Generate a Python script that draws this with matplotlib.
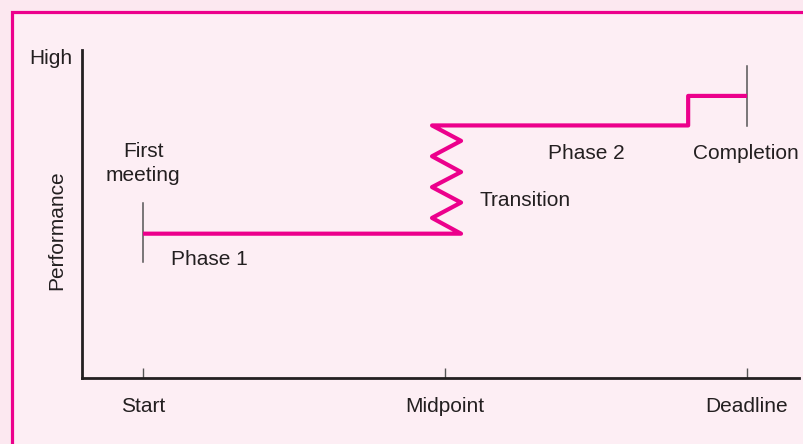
import matplotlib
matplotlib.use("Agg")
import matplotlib.pyplot as plt
from matplotlib.patches import Rectangle

plt.rcParams['font.family'] = ['Liberation Sans', 'DejaVu Sans']

#%% data

milestones = ["Start", "Midpoint", "Deadline"]
milestone_x = [0, 1, 2]

# performance path: phase 1, zigzag transition, phase 2, final step up
path_x = [0.0, 1.053, 0.957, 1.053, 0.957, 1.053, 0.957, 1.053, 0.957, 1.805, 1.805, 2.0]
path_y = [4.4, 4.4, 4.88, 5.35, 5.82, 6.28, 6.76, 7.23, 7.7, 7.7, 8.6, 8.6]

first_meeting_x = [0, 0]
first_meeting_y = [3.55, 5.35]
completion_x = [2, 2]
completion_y = [7.68, 9.5]

#%% figure

pink = '#ec008c'
ink = '#231f20'
fs = 15

fig = plt.figure(figsize=(8.04, 4.44), dpi=100)
fig.patch.set_facecolor('#fce8f0')
fig.patches.append(Rectangle((12.5 / 804, -0.1), 1.2, (444 - 12.5) / 444 + 0.1,
                             transform=fig.transFigure, facecolor='#fdeef4',
                             edgecolor=pink, linewidth=2.3, zorder=-1))

ax = fig.add_axes([82 / 804, 66 / 444, 717 / 804, 328 / 444])
ax.set_facecolor('none')
ax.set_xlim(-0.202, 2.172)
ax.set_ylim(0, 10)

for s in ['top', 'right']:
    ax.spines[s].set_visible(False)
for s in ['left', 'bottom']:
    ax.spines[s].set_color(ink)
    ax.spines[s].set_linewidth(2)

ax.set_xticks(milestone_x, milestones)
ax.tick_params(axis='x', direction='in', length=7, width=1, color='#555555',
               pad=14, labelsize=fs, labelcolor=ink)
ax.set_yticks([])

ax.set_ylabel("Performance", fontsize=fs, color=ink)
ax.yaxis.set_label_coords(-0.022, 0.451)
ax.text(-0.235, 9.73, "High", fontsize=fs, color=ink, ha='right', va='center')

ax.plot(path_x, path_y, color=pink, linewidth=3, solid_joinstyle='round',
        solid_capstyle='butt', zorder=3)
ax.plot(first_meeting_x, first_meeting_y, color='#555555', linewidth=1.1, zorder=2)
ax.plot(completion_x, completion_y, color='#555555', linewidth=1.1, zorder=2)

ax.text(0, 6.54, "First\nmeeting", fontsize=fs, color=ink, ha='center', va='center',
        linespacing=1.35)
ax.text(0.22, 3.6, "Phase 1", fontsize=fs, color=ink, ha='center', va='center')
ax.text(1.265, 5.4, "Transition", fontsize=fs, color=ink, ha='center', va='center')
ax.text(1.467, 6.84, "Phase 2", fontsize=fs, color=ink, ha='center', va='center')
ax.text(1.997, 6.84, "Completion", fontsize=fs, color=ink, ha='center', va='center')

fig.savefig("out.png", dpi=100, facecolor=fig.get_facecolor())
